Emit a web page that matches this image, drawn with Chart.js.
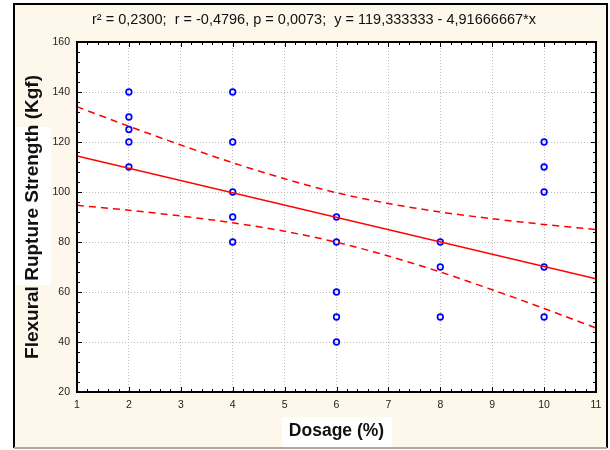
<!DOCTYPE html>
<html>
<head>
<meta charset="utf-8">
<script src="https://cdn.jsdelivr.net/npm/chart.js@4"></script>
<style>
  html, body { margin: 0; padding: 0; background: #fff; }
  canvas { display: block; }
</style>
</head>
<body>
<canvas id="c" width="610" height="450"></canvas>
<script>
// observed points
const dosageX   = [2,2,2,2,2, 4,4,4,4,4, 6,6,6,6,6, 8,8,8, 10,10,10,10,10];
const strengthY = [140,130,125,120,110, 140,120,100,90,80, 90,80,60,50,40, 80,70,50, 120,110,100,70,50];

// fitted line ends
const fitX = [1, 11];
const fitY = [114.4, 65.25];

// 95% band, read at every integer dosage
const bandX     = [1, 2, 3, 4, 5, 6, 7, 8, 9, 10, 11];
const bandUpper = [134.1, 126.3, 118.8, 111.7, 105.3, 99.7, 95.4, 92.0, 89.3, 87.0, 85.0];
const bandLower = [94.7, 92.7, 90.4, 87.7, 84.3, 79.9, 74.4, 68.0, 60.9, 53.4, 45.6];

const titleText = 'r\u00B2 = 0,2300;  r = -0,4796, p = 0,0073;  y = 119,333333 - 4,91666667*x';
const FONT = '"Liberation Sans", Arial, sans-serif';
const CREAM = '#FDF8EB';

const pts = (xs, ys) => xs.map((x, i) => ({ x, y: ys[i] }));

// background, frame, header text, plot box and the small inward ticks
const framePlugin = {
  id: 'frame',
  beforeDraw(chart) {
    const { ctx, chartArea: a } = chart;
    ctx.save();
    ctx.fillStyle = '#fff';
    ctx.fillRect(0, 0, chart.width, chart.height);
    ctx.fillStyle = CREAM;
    ctx.fillRect(14, 4, 593, 444);
    ctx.strokeStyle = '#000';
    ctx.lineWidth = 2;
    ctx.beginPath();
    ctx.moveTo(14, 448); ctx.lineTo(14, 4); ctx.lineTo(607, 4); ctx.lineTo(607, 448);
    ctx.stroke();
    ctx.strokeStyle = '#AAAAAA';
    ctx.beginPath();
    ctx.moveTo(14, 448); ctx.lineTo(607, 448);
    ctx.stroke();
    // white patches behind axis titles
    ctx.fillStyle = '#fff';
    ctx.fillRect(16, 127, 35, 158);
    ctx.fillRect(282, 417, 110, 30);
    ctx.fillRect(a.left, a.top, a.right - a.left, a.bottom - a.top);
    // header
    ctx.fillStyle = '#111';
    ctx.font = '14.5px ' + FONT;
    ctx.textAlign = 'center';
    ctx.textBaseline = 'middle';
    ctx.fillText(titleText, 314, 20);
    ctx.restore();
  },
  afterDraw(chart) {
    const { ctx, chartArea: a, scales } = chart;
    ctx.save();
    ctx.strokeStyle = '#000';
    ctx.lineWidth = 1;
    ctx.beginPath();
    for (let i = 0; i <= 50; i++) {
      const px = Math.round(scales.x.getPixelForValue(1 + i * 0.2)) + 0.5;
      const len = i % 5 === 0 ? 5 : 3;
      ctx.moveTo(px, a.bottom); ctx.lineTo(px, a.bottom - len);
      ctx.moveTo(px, a.top); ctx.lineTo(px, a.top + len);
    }
    for (let v = 20; v <= 160; v += 4) {
      const py = Math.round(scales.y.getPixelForValue(v)) + 0.5;
      const len = (v - 20) % 20 === 0 ? 5 : 3;
      ctx.moveTo(a.left, py); ctx.lineTo(a.left + len, py);
      ctx.moveTo(a.right, py); ctx.lineTo(a.right - len, py);
    }
    ctx.stroke();
    ctx.lineWidth = 2;
    ctx.strokeRect(a.left, a.top, a.right - a.left, a.bottom - a.top);
    ctx.restore();
  }
};

new Chart(document.getElementById('c'), {
  type: 'scatter',
  data: {
    datasets: [
      {
        label: 'upper', type: 'line', data: pts(bandX, bandUpper),
        borderColor: '#FF0000', borderWidth: 1.5, borderDash: [7, 5],
        pointRadius: 0, tension: 0.3, fill: false
      },
      {
        label: 'lower', type: 'line', data: pts(bandX, bandLower),
        borderColor: '#FF0000', borderWidth: 1.5, borderDash: [7, 5],
        pointRadius: 0, tension: 0.3, fill: false
      },
      {
        label: 'fit', type: 'line', data: pts(fitX, fitY),
        borderColor: '#FF0000', borderWidth: 1.5, pointRadius: 0, fill: false
      },
      {
        label: 'data', data: pts(dosageX, strengthY),
        pointStyle: 'circle', pointRadius: 2.8, borderWidth: 1.7,
        borderColor: '#0000FF', backgroundColor: 'rgba(255,255,255,0)'
      }
    ]
  },
  options: {
    responsive: false,
    animation: false,
    devicePixelRatio: 1,
    layout: { autoPadding: false, padding: { left: 13, top: 42, right: 14, bottom: 0 } },
    plugins: {
      legend: { display: false },
      tooltip: { enabled: false },
      title: { display: false }
    },
    scales: {
      x: {
        type: 'linear', min: 1, max: 11,
        afterFit: s => { s.height = 58; },
        ticks: { stepSize: 1, color: '#222', padding: 7, font: { family: FONT, size: 10.5 } },
        grid: { color: '#BDBDBD', lineWidth: 1, drawTicks: false },
        border: { display: false, dash: [1, 2] },
        title: {
          display: true, text: 'Dosage (%)', color: '#111',
          font: { family: FONT, size: 17.5, weight: 'bold' },
          padding: { top: 0, bottom: 8 }
        }
      },
      y: {
        type: 'linear', min: 20, max: 160,
        afterFit: s => { s.width = 64; },
        ticks: { stepSize: 20, color: '#222', padding: 7, font: { family: FONT, size: 10.5 } },
        grid: { color: '#BDBDBD', lineWidth: 1, drawTicks: false },
        border: { display: false, dash: [1, 2] },
        title: {
          display: true, text: 'Flexural Rupture Strength (Kgf)', color: '#111',
          font: { family: FONT, size: 19, weight: 'bold' },
          padding: { top: 8, bottom: 0 }
        }
      }
    }
  },
  plugins: [framePlugin]
});
</script>
</body>
</html>
